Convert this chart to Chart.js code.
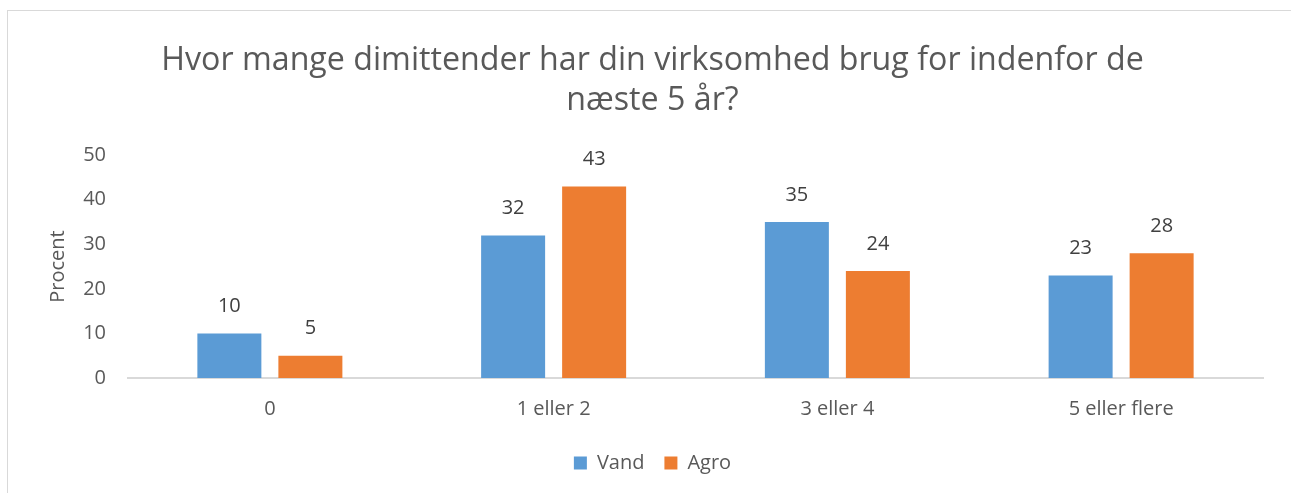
<!DOCTYPE html>
<html>
<head>
<meta charset="utf-8">
<script src="https://cdn.jsdelivr.net/npm/chart.js@4"></script>
<style>
  body { margin: 0; background: #fff; }
  #ramme { position: absolute; left: 7px; top: 10px; width: 1290px; height: 490px; border: 1px solid #d9d9d9; box-sizing: border-box; }
  #wrap { position: absolute; left: 0; top: 0; width: 1291px; height: 493px; }
</style>
</head>
<body>
<div id="ramme"></div>
<div id="wrap"><canvas id="bar-chart"></canvas></div>
<script>
// Antal dimittender - svar i procent
var kategorier = ['0', '1 eller 2', '3 eller 4', '5 eller flere'];
var vand = [10, 32, 35, 23];
var agro = [5, 43, 24, 28];
var yTicks = [0, 10, 20, 30, 40, 50];

var tekstFarve = '#595959';
var skrift = "'Open Sans', 'Noto Sans', sans-serif";

// tegner tallene over søjlerne
var etiketter = {
  id: 'etiketter',
  afterDatasetsDraw: function (chart) {
    var ctx = chart.ctx;
    ctx.save();
    ctx.font = '20px ' + skrift;
    ctx.fillStyle = '#404040';
    ctx.textAlign = 'center';
    ctx.textBaseline = 'middle';
    chart.data.datasets.forEach(function (ds, i) {
      chart.getDatasetMeta(i).data.forEach(function (bar, j) {
        ctx.fillText(ds.data[j], bar.x, bar.y - 27);
      });
    });
    ctx.restore();
  }
};

var ctx = document.getElementById('bar-chart').getContext('2d');
var chart = new Chart(ctx, {
  type: 'bar',
  data: {
    labels: kategorier,
    datasets: [{
      label: 'Vand',
      data: vand,
      backgroundColor: '#5b9bd5',
      categoryPercentage: 0.571,
      barPercentage: 0.79
    }, {
      label: 'Agro',
      data: agro,
      backgroundColor: '#ed7d31',
      categoryPercentage: 0.571,
      barPercentage: 0.79
    }]
  },
  options: {
    responsive: true,
    maintainAspectRatio: false,
    animation: false,
    layout: { padding: { left: 42, right: 28, top: 41, bottom: 10 } },
    scales: {
      x: {
        grid: { display: false },
        border: { display: true, color: '#d9d9d9', width: 2 },
        ticks: { color: tekstFarve, font: { family: skrift, size: 20 }, padding: 11 },
        afterFit: function (axis) { axis.height += 1; }
      },
      y: {
        min: 0,
        max: 50,
        grid: { display: false },
        border: { display: false },
        afterBuildTicks: function (axis) {
          axis.ticks = yTicks.map(function (v) { return { value: v }; });
        },
        afterFit: function (axis) { axis.width = 86; },
        ticks: { color: tekstFarve, font: { family: skrift, size: 20 }, padding: 14 },
        title: { display: true, text: 'Procent', color: tekstFarve, font: { family: skrift, size: 20 }, padding: 4 }
      }
    },
    plugins: {
      title: {
        display: true,
        text: ['Hvor mange dimittender har din virksomhed brug for indenfor de', 'næste 5 år?'],
        color: tekstFarve,
        font: { family: skrift, size: 32.2, weight: 'normal', lineHeight: 1.23 },
        padding: { top: 0, bottom: 35 }
      },
      legend: {
        position: 'bottom',
        labels: {
          color: tekstFarve,
          font: { family: skrift, size: 20 },
          boxWidth: 13,
          boxHeight: 13,
          padding: 20
        }
      },
      tooltip: { enabled: false }
    }
  },
  plugins: [etiketter]
});
</script>
</body>
</html>
